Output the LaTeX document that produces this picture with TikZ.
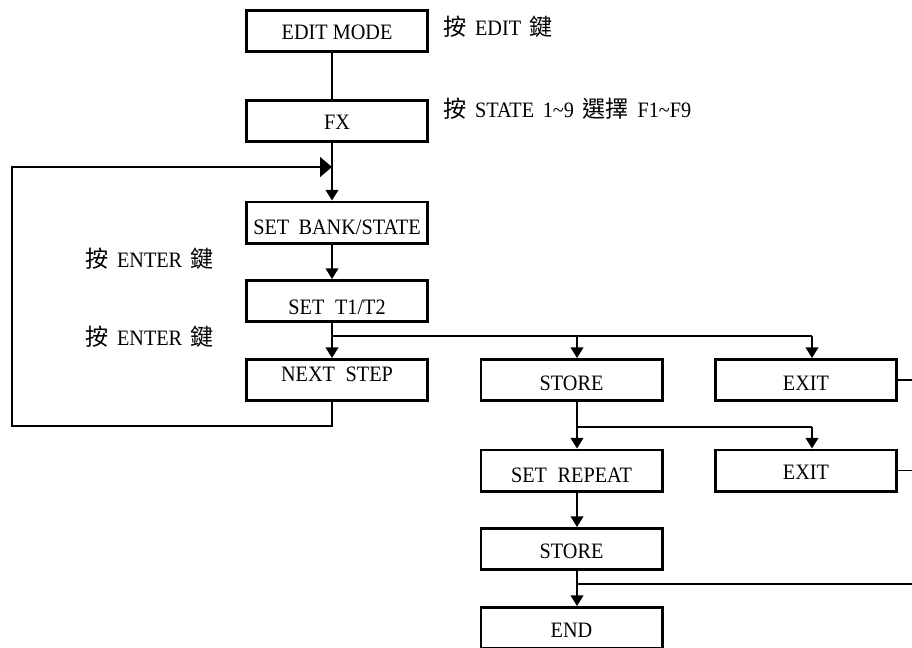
\documentclass[tikz,border=0pt]{standalone}
\usepackage{fontspec}
\setmainfont{Liberation Serif}[FakeStretch=0.92]
\newfontfamily\cjk{Noto Sans CJK TC}[Scale=1.05]
\usetikzlibrary{arrows.meta}
\newcommand\gp{\hspace{8pt}}
\newcommand\lbgap{\hspace{6.5pt}}
\newcommand\bg{\hspace{7pt}}
\begin{document}
\begin{tikzpicture}[x=0.75pt,y=-0.75pt,
  box/.style={draw,line width=2pt,minimum width=136pt,minimum height=31pt,inner sep=0pt,
    text height=10.9pt,text depth=0pt,font=\fontsize{16.5}{19}\selectfont},
  conn/.style={line width=1.4pt,-{Triangle[width=9.5pt,length=8pt]}},
  vline/.style={line width=1.4pt},
  hline/.style={line width=1.1pt},
  lbl/.style={anchor=west,inner sep=0pt,font=\fontsize{16.5}{19}\selectfont}]
\clip (0,0) rectangle (912,647);
% columns and rows
\coordinate (c1) at (332,0);
\coordinate (c2) at (577,0);
\coordinate (c3) at (812,0);
\coordinate (lx) at (12,0);
\coordinate (rx) at (914,0);
\coordinate (b1) at (0,336);
\coordinate (b2) at (0,427);
\coordinate (b3) at (0,584);
\coordinate (ly) at (0,426);
\coordinate (ry) at (0,167);
% boxes
\node[box] (edit)   at (337,31)    {\raisebox{-0.8pt}{EDIT MODE}};
\node[box] (fx)     at (337,121)   {\raisebox{-1pt}{FX}};
\node[box] (bank)   at (337,222.5) {\raisebox{-3.5pt}{SET\bg BANK/STATE}};
\node[box] (t12)    at (337,301)   {\raisebox{-4.5pt}{SET\gp T1/T2}};
\node[box] (next)   at (337,380)   {\raisebox{4pt}{NEXT\gp STEP}};
\node[box] (store)  at (571.5,380) {\raisebox{-2.2pt}{STORE}};
\node[box] (exit)   at (806,380)   {\raisebox{-2.2pt}{EXIT}};
\node[box] (repeat) at (571.5,470.5) {\raisebox{-3.7pt}{SET\gp REPEAT}};
\node[box] (exit2)  at (806,470.5) {\raisebox{-1.5pt}{EXIT}};
\node[box] (store2) at (571.5,549) {\raisebox{-1.5pt}{STORE}};
\node[box] (end)    at (571.5,628) {\raisebox{-1.5pt}{END}};
% labels
\node[lbl] (l1) at (443,27)  {{\cjk 按}\lbgap EDIT\lbgap{\cjk 鍵}};
\node[lbl] (l2) at (443,109) {{\cjk 按}\lbgap STATE\lbgap 1\textasciitilde 9\lbgap{\cjk 選擇}\lbgap F1\textasciitilde F9};
\node[lbl] (l3) at (85,259)  {{\cjk 按}\lbgap ENTER\lbgap{\cjk 鍵}};
\node[lbl] (l4) at (85,337)  {{\cjk 按}\lbgap ENTER\lbgap{\cjk 鍵}};
% connectors
\draw[vline] (edit.south -| c1) -- (fx.north -| c1);
\draw[conn] (fx.south -| c1) -- (bank.north -| c1);
\draw[conn] (bank.south -| c1) -- (t12.north -| c1);
\draw[conn] (t12.south -| c1) -- (next.north -| c1);
\draw[hline] (b1 -| c1) -- (b1 -| c3);
\draw[conn] (b1 -| c2) -- (store.north -| c2);
\draw[conn] (b1 -| c3) -- (exit.north -| c3);
\draw[line width=1.2pt,-{Triangle[width=15pt,length=9pt]}]
  (next.south -| c1) -- (ly -| c1) -- (ly -| lx) -- (ry -| lx) -- (ry -| c1);
\draw[vline] (store.south -| c2) -- (b2 -| c2);
\draw[hline] (b2 -| c2) -- (b2 -| c3);
\draw[conn] (b2 -| c2) -- (repeat.north -| c2);
\draw[conn] (b2 -| c3) -- (exit2.north -| c3);
\draw[conn] (repeat.south -| c2) -- (store2.north -| c2);
\draw[conn] (store2.south -| c2) -- (end.north -| c2);
\draw[hline] (b3 -| c2) -- (b3 -| rx);
\draw[hline] (exit.east) -- (exit.east -| rx);
\draw[hline] (exit2.east) -- (exit2.east -| rx);
\end{tikzpicture}
\end{document}
